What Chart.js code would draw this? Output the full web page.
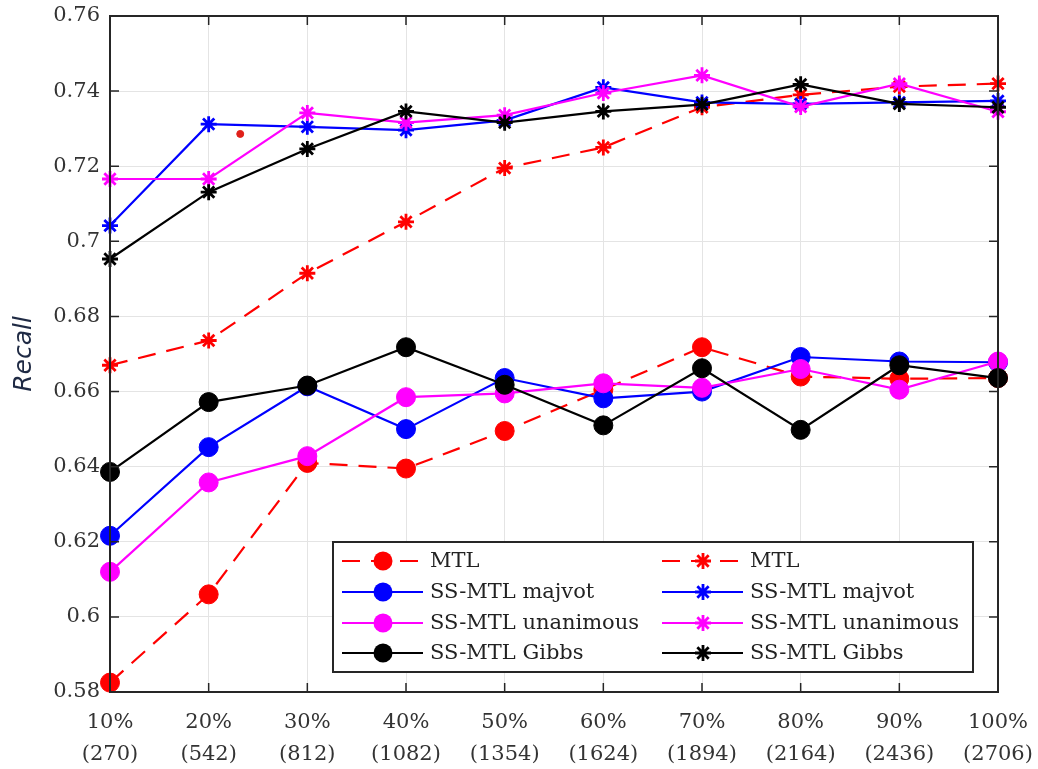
<!DOCTYPE html>
<html>
<head>
<meta charset="utf-8">
<title>Recall</title>
<script src="https://cdn.jsdelivr.net/npm/chart.js@4.4.1/dist/chart.umd.min.js"></script>
<style>
  html, body { margin: 0; padding: 0; background: #fff; }
  #wrap { width: 1038px; height: 769px; }
</style>
</head>
<body>
<div id="wrap"><canvas id="recallChart" width="1038" height="769"></canvas></div>
<script>
// x categories
let percents = ['10%', '20%', '30%', '40%', '50%', '60%', '70%', '80%', '90%', '100%'];
let counts = ['(270)', '(542)', '(812)', '(1082)', '(1354)', '(1624)', '(1894)', '(2164)', '(2436)', '(2706)'];

// circle-marker series
let mtlCircle = [0.5825, 0.6060, 0.6410, 0.6395, 0.6495, 0.6605, 0.6718, 0.6640, 0.6634, 0.6636];
let majvotCircle = [0.6216, 0.6452, 0.6614, 0.6500, 0.6636, 0.6582, 0.6600, 0.6692, 0.6680, 0.6678];
let unanimousCircle = [0.6120, 0.6358, 0.6428, 0.6585, 0.6595, 0.6622, 0.6610, 0.6660, 0.6605, 0.6680];
let gibbsCircle = [0.6386, 0.6572, 0.6616, 0.6718, 0.6618, 0.6510, 0.6662, 0.6498, 0.6670, 0.6636];

// star-marker series
let mtlStar = [0.6670, 0.6736, 0.6915, 0.7052, 0.7195, 0.7250, 0.7357, 0.7390, 0.7412, 0.7420];
let majvotStar = [0.7042, 0.7312, 0.7305, 0.7296, 0.7322, 0.7410, 0.7370, 0.7366, 0.7370, 0.7374];
let unanimousStar = [0.7166, 0.7166, 0.7342, 0.7316, 0.7336, 0.7395, 0.7442, 0.7358, 0.7420, 0.7345];
let gibbsStar = [0.6953, 0.7131, 0.7246, 0.7346, 0.7316, 0.7346, 0.7364, 0.7418, 0.7366, 0.7357];

// small red dot between 20% and 30%
let strayDotX = [1.32];
let strayDotY = [0.7286];

// y ticks
let yMin = 0.58, yMax = 0.76, yStep = 0.02;

let serif = '"DejaVu Serif", "Liberation Serif", serif';
let dashed = [18, 11];

function toPoints(values) {
    return values.map((v, i) => ({ x: i, y: v }));
}

function series(label, values, color, style, dash) {
    let isCircle = style === 'circle';
    return {
        label: label,
        data: toPoints(values),
        borderColor: color,
        backgroundColor: color,
        borderWidth: 2.2,
        borderDash: dash || [],
        pointStyle: style,
        pointRadius: isCircle ? 9.5 : 8,
        pointBorderWidth: isCircle ? 1 : 2.8,
        pointBackgroundColor: color,
        pointBorderColor: color,
        clip: false,
        tension: 0
    };
}

let datasets = [
    series('MTL', mtlCircle, '#ff0000', 'circle', dashed),
    series('SS-MTL majvot', majvotCircle, '#0000ff', 'circle'),
    series('SS-MTL unanimous', unanimousCircle, '#ff00ff', 'circle'),
    series('SS-MTL Gibbs', gibbsCircle, '#000000', 'circle'),
    series('MTL', mtlStar, '#ff0000', 'star', dashed),
    series('SS-MTL majvot', majvotStar, '#0000ff', 'star'),
    series('SS-MTL unanimous', unanimousStar, '#ff00ff', 'star'),
    series('SS-MTL Gibbs', gibbsStar, '#000000', 'star')
];
// later series sit on top, like the original plot
datasets.forEach((d, i) => { d.order = datasets.length - i; });
datasets.push({
    label: 'dot',
    data: strayDotX.map((x, i) => ({ x: x, y: strayDotY[i] })),
    showLine: false,
    pointRadius: 3.5,
    pointBackgroundColor: '#e0201a',
    pointBorderColor: '#e0201a',
    order: 20
});

function drawMarker(ctx, ds, x, y) {
    ctx.save();
    ctx.fillStyle = ds.pointBackgroundColor;
    ctx.strokeStyle = ds.pointBorderColor;
    ctx.lineWidth = ds.pointBorderWidth;
    ctx.setLineDash([]);
    let r = ds.pointRadius;
    if (ds.pointStyle === 'circle') {
        ctx.beginPath();
        ctx.arc(x, y, r, 0, Math.PI * 2);
        ctx.fill();
    } else {
        ctx.beginPath();
        for (let k = 0; k < 4; k++) {
            let a = k * Math.PI / 4;
            ctx.moveTo(x - Math.cos(a) * r, y - Math.sin(a) * r);
            ctx.lineTo(x + Math.cos(a) * r, y + Math.sin(a) * r);
        }
        ctx.stroke();
    }
    ctx.restore();
}

// box, inward ticks and the two-column legend
let framePlugin = {
    id: 'frame',
    afterDraw(chart) {
        let ctx = chart.ctx;
        let a = chart.chartArea;
        let xs = chart.scales.x, ys = chart.scales.y;
        ctx.save();
        ctx.strokeStyle = '#262626';
        ctx.lineWidth = 1.5;
        ctx.beginPath();
        xs.ticks.forEach(t => {
            let px = xs.getPixelForValue(t.value);
            ctx.moveTo(px, a.bottom); ctx.lineTo(px, a.bottom - 9);
            ctx.moveTo(px, a.top); ctx.lineTo(px, a.top + 9);
        });
        ys.ticks.forEach(t => {
            let py = ys.getPixelForValue(t.value);
            ctx.moveTo(a.left, py); ctx.lineTo(a.left + 9, py);
            ctx.moveTo(a.right, py); ctx.lineTo(a.right - 9, py);
        });
        ctx.stroke();
        ctx.lineWidth = 2;
        ctx.strokeRect(a.left, a.top, a.right - a.left, a.bottom - a.top);

        // legend
        let box = { x: 333, y: 542, w: 640, h: 130 };
        ctx.fillStyle = '#fff';
        ctx.fillRect(box.x, box.y, box.w, box.h);
        ctx.strokeRect(box.x, box.y, box.w, box.h);
        let rowY = [561, 592, 623, 653];
        let cols = [342, 662];
        ctx.font = '21px ' + serif;
        ctx.textBaseline = 'middle';
        ctx.textAlign = 'left';
        for (let c = 0; c < 2; c++) {
            for (let r = 0; r < 4; r++) {
                let ds = chart.data.datasets[c * 4 + r];
                let x0 = cols[c], y0 = rowY[r];
                ctx.save();
                ctx.strokeStyle = ds.borderColor;
                ctx.lineWidth = ds.borderWidth;
                ctx.setLineDash(ds.borderDash);
                ctx.beginPath();
                ctx.moveTo(x0, y0); ctx.lineTo(x0 + 81, y0);
                ctx.stroke();
                ctx.restore();
                drawMarker(ctx, ds, x0 + 41, y0);
                ctx.fillStyle = '#222';
                ctx.fillText(ds.label, x0 + 88, y0 + 1);
            }
        }
        ctx.restore();
    }
};

let myChart = new Chart(document.getElementById('recallChart').getContext('2d'), {
    type: 'line',
    data: { datasets: datasets },
    options: {
        responsive: false,
        animation: false,
        devicePixelRatio: 1,
        layout: { padding: { top: 16, right: 40, left: 0, bottom: 0 } },
        plugins: {
            legend: { display: false },
            tooltip: { enabled: false }
        },
        scales: {
            x: {
                type: 'linear',
                min: 0,
                max: percents.length - 1,
                afterFit: s => { s.height = 77; s.paddingLeft = 0; s.paddingRight = 0; },
                grid: { color: '#e4e4e4', lineWidth: 1, drawTicks: false },
                border: { display: false },
                ticks: {
                    stepSize: 1,
                    padding: 15,
                    color: '#333',
                    maxRotation: 0,
                    autoSkip: false,
                    font: { family: serif, size: 21, lineHeight: 1.52 },
                    callback: v => [percents[v], counts[v]]
                }
            },
            y: {
                min: yMin,
                max: yMax,
                afterFit: s => { s.width = 110; s.paddingTop = 0; s.paddingBottom = 0; },
                grid: { color: '#e4e4e4', lineWidth: 1, drawTicks: false },
                border: { display: false },
                title: {
                    display: true,
                    text: 'Recall',
                    color: '#1f2a44',
                    padding: { top: 9, bottom: 0 },
                    font: { family: '"DejaVu Sans", sans-serif', size: 25, style: 'italic' }
                },
                ticks: {
                    stepSize: yStep,
                    padding: 10,
                    color: '#333',
                    font: { family: serif, size: 21 },
                    callback: v => String(+v.toFixed(2))
                }
            }
        }
    },
    plugins: [framePlugin]
});
</script>
</body>
</html>
